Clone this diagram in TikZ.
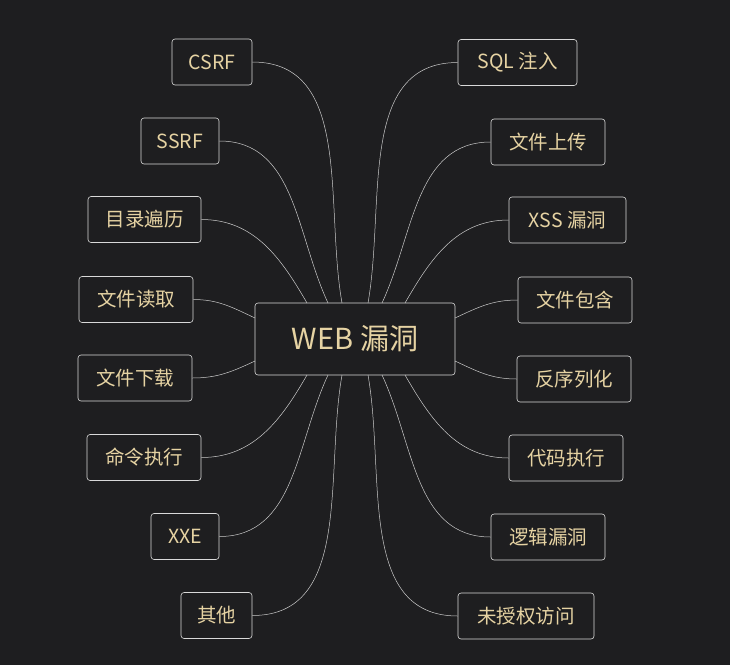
\documentclass[tikz,border=0pt]{standalone}
\usepackage{fontspec}
\setmainfont{Noto Sans CJK SC}
\begin{document}
\begin{tikzpicture}[x=1pt,y=-1pt,
  box/.style={draw=white!85!black,rounded corners=3pt,line width=0.6pt,text=tan1,font=\fontsize{19.5}{21}\selectfont,inner sep=0pt},
  ln/.style={draw=white!80!black,line width=0.5pt}]
\definecolor{bg}{HTML}{1E1E20}
\definecolor{tan1}{HTML}{E6D3A3}
\fill[bg] (0,0) rectangle (730,665);
\useasboundingbox (0,0) rectangle (730,665);
\node[box,minimum width=200pt,minimum height=72pt,font=\fontsize{29}{31}\selectfont] (c) at (355,339) {WEB 漏洞};
\def\mk#1#2#3#4#5{\node[box,minimum width=#4pt,minimum height=46pt] (#1) at (#2,#3) {#5};}
\mk{l1}{212}{62}{80}{CSRF}
\mk{l2}{180}{141}{78}{SSRF}
\mk{l3}{144.5}{219.5}{113}{目录遍历}
\mk{l4}{136}{299.5}{114}{文件读取}
\mk{l5}{135}{378}{114}{文件下载}
\mk{l6}{144}{457.5}{114}{命令执行}
\mk{l7}{185}{536.5}{68}{XXE}
\mk{l8}{216.5}{615.5}{71}{其他}
\mk{r1}{517.5}{62.5}{119}{SQL 注入}
\mk{r2}{548}{142}{114}{文件上传}
\mk{r3}{567.5}{220}{117}{XSS 漏洞}
\mk{r4}{575}{300}{114}{文件包含}
\mk{r5}{574}{379}{114}{反序列化}
\mk{r6}{566}{458}{114}{代码执行}
\mk{r7}{548}{537}{114}{逻辑漏洞}
\mk{r8}{526}{616}{136}{未授权访问}
\coordinate (a1) at (342,303); \coordinate (a2) at (328,303); \coordinate (a3) at (307,303);
\coordinate (a4) at (255,318); \coordinate (a5) at (255,361);
\coordinate (a6) at (307,375); \coordinate (a7) at (328,375); \coordinate (a8) at (342,375);
\coordinate (b1) at (368,303); \coordinate (b2) at (382,303); \coordinate (b3) at (405,303);
\coordinate (b4) at (455,318); \coordinate (b5) at (455,361);
\coordinate (b6) at (405,375); \coordinate (b7) at (382,375); \coordinate (b8) at (368,375);
\draw[ln] (l1.east) to[out=0,in=100] (a1);
\draw[ln] (l2.east) to[out=0,in=115] (a2);
\draw[ln] (l3.east) to[out=0,in=120] (a3);
\draw[ln] (l4.east) to[out=0,in=155] (a4);
\draw[ln] (l5.east) to[out=0,in=-155] (a5);
\draw[ln] (l6.east) to[out=0,in=-120] (a6);
\draw[ln] (l7.east) to[out=0,in=-115] (a7);
\draw[ln] (l8.east) to[out=0,in=-100] (a8);
\draw[ln] (r1.west) to[out=180,in=80] (b1);
\draw[ln] (r2.west) to[out=180,in=65] (b2);
\draw[ln] (r3.west) to[out=180,in=60] (b3);
\draw[ln] (r4.west) to[out=180,in=25] (b4);
\draw[ln] (r5.west) to[out=180,in=-25] (b5);
\draw[ln] (r6.west) to[out=180,in=-60] (b6);
\draw[ln] (r7.west) to[out=180,in=-65] (b7);
\draw[ln] (r8.west) to[out=180,in=-80] (b8);
\end{tikzpicture}
\end{document}
